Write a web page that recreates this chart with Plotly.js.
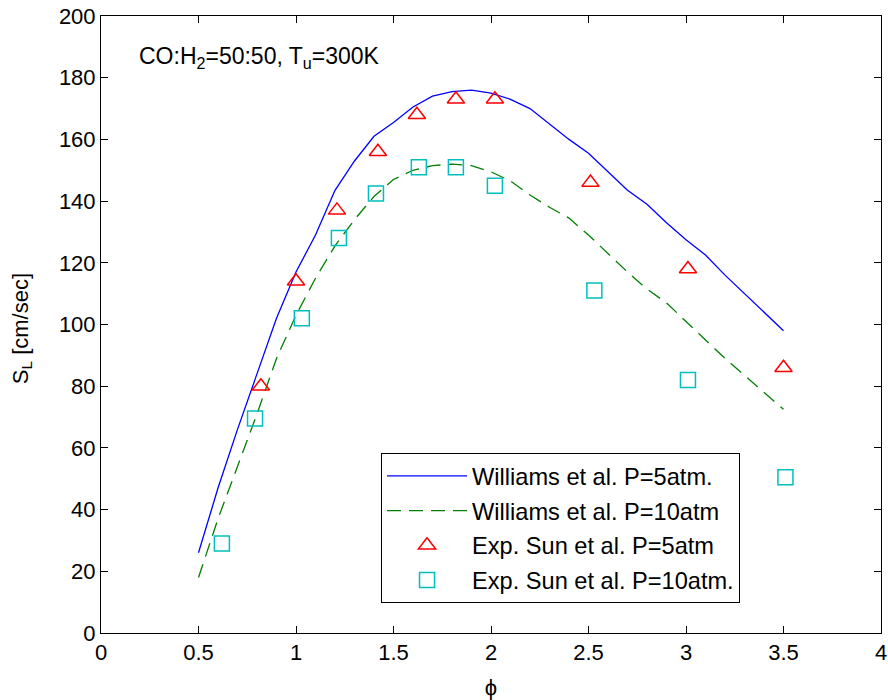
<!DOCTYPE html>
<html>
<head>
<meta charset="utf-8">
<script src="https://cdn.plot.ly/plotly-3.0.1.min.js"></script>
<style>html,body{margin:0;padding:0;background:#fff}#chart{width:888px;height:700px}</style>
</head>
<body>
<div id="chart"></div>
<script>
// Williams et al. model curves
const phiModel = [0.5,0.6,0.7,0.8,0.9,1.0,1.1,1.2,1.3,1.4,1.5,1.6,1.7,1.8,1.9,2.0,2.1,2.2,2.3,2.4,2.5,2.6,2.7,2.8,2.9,3.0,3.1,3.2,3.3,3.4,3.5];
const williams5 = [26,47,66,84,102,117,129,143.5,153,161,165.5,170.5,174,175.5,176,175,173,170,165,160,155.5,149.5,143.5,139,133,127.5,122.5,116,110,104,98];
const williams10 = [18,37,54,71,89,103,115,125.5,134,141.5,147,150,151.5,152,151.5,149.5,146.5,142,138,134.5,129,123,117,111.5,107,101,95,89,83.5,78,72.5];
// Experiments, Sun et al.
const phiExp5 = [0.82,1.0,1.21,1.42,1.62,1.82,2.02,2.51,3.01,3.5];
const sun5 = [80,114,137,156,168,173,173,146,118,86];
const phiExp10 = [0.62,0.79,1.03,1.22,1.41,1.63,1.82,2.02,2.53,3.01,3.51];
const sun10 = [29,69.5,102,128,142.5,151,151,145,111,82,50.5];

const names = ['Williams et al. P=5atm.','Williams et al. P=10atm','Exp. Sun et al. P=5atm','Exp. Sun et al. P=10atm.'];
const xTicks = [0,0.5,1,1.5,2,2.5,3,3.5,4];
const xTickText = ['0','0.5','1','1.5','2','2.5','3','3.5','4'];
const yTicks = [0,20,40,60,80,100,120,140,160,180,200];
const FONT = 'Liberation Sans, Arial, sans-serif';

const data = [
  {x: phiModel, y: williams5, type:'scatter', mode:'lines', name:names[0], legendgroup:'a',
   line:{color:'#0000FF', width:1.3}},
  {x: phiModel, y: williams10, type:'scatter', mode:'lines', name:names[1], legendgroup:'b',
   line:{color:'#008000', width:1.3, dash:'14px,8px'}},
  {x: phiExp5, y: sun5, type:'scatter', mode:'markers', name:names[2], legendgroup:'c',
   marker:{symbol:'triangle-up-open', size:15, color:'#FF0000', line:{width:1.5, color:'#FF0000'}}},
  {x: phiExp10, y: sun10, type:'scatter', mode:'markers', name:names[3], legendgroup:'d',
   marker:{symbol:'square-open', size:15, color:'#00BFBF', line:{width:1.5, color:'#00BFBF'}}}
];

const axisCommon = {
  showgrid:false, zeroline:false, showline:true, linecolor:'#000', linewidth:1,
  mirror:'ticks', ticks:'inside', ticklen:7, tickcolor:'#000', tickwidth:1,
  tickfont:{family:FONT, size:22, color:'#000'}
};

const layout = {
  width:888, height:700,
  margin:{l:101, r:7, t:16, b:67},
  paper_bgcolor:'#fff', plot_bgcolor:'#fff',
  font:{family:FONT, size:22, color:'#000'},
  showlegend:true,
  legend:{x:0.359, y:0.2917, xanchor:'left', yanchor:'top', bgcolor:'#fff',
    bordercolor:'#000', borderwidth:1, font:{family:FONT, size:23.6, color:'#000'},
    itemwidth:80, tracegroupgap:1, traceorder:'grouped'},
  xaxis: Object.assign({}, axisCommon, {range:[0,4], tickvals:xTicks, ticktext:xTickText,
    title:{text:'ϕ', font:{family:FONT, size:22, color:'#000'}}}),
  yaxis: Object.assign({}, axisCommon, {range:[0,200], tickvals:yTicks}),
  annotations:[
    {xref:'paper', yref:'paper', x:0.046, y:0.932, xanchor:'left', yanchor:'middle',
     showarrow:false, text:'CO:H<sub>2</sub>=50:50, T<sub>u</sub>=300K', font:{family:FONT, size:23, color:'#000'}},
    {xref:'paper', yref:'paper', x:-0.1013, y:0.494, xanchor:'center', yanchor:'middle', textangle:-90,
     showarrow:false, text:'S<sub>L</sub> [cm/sec]', font:{family:FONT, size:22, color:'#000'}}
  ]
};

Plotly.newPlot('chart', data, layout, {displayModeBar:false, staticPlot:true});
</script>
</body>
</html>
